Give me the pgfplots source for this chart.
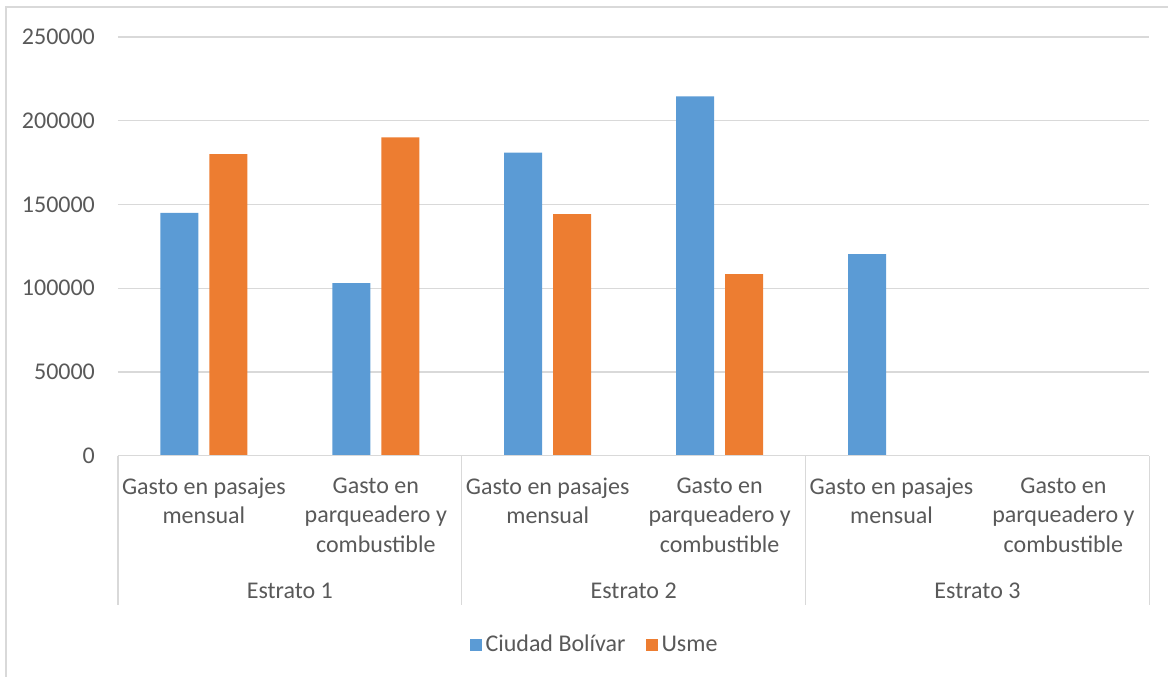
\documentclass[border=0pt]{standalone}
\usepackage{fontspec}
\setmainfont{Carlito}
\usepackage{pgfplots}
\pgfplotsset{compat=1.18}
\definecolor{cbblue}{HTML}{5B9BD5}
\definecolor{usorange}{HTML}{ED7D31}
\definecolor{txtgray}{HTML}{595959}
\definecolor{linegray}{HTML}{D9D9D9}

\begin{document}
\begin{tikzpicture}
% page = 1169 x 677 px, 1 px = 0.5 pt
\path (0,0) rectangle (584.5pt,338.5pt);
\draw[linegray, line width=0.6pt] (3pt,0) -- (3pt,335pt) -- (584.5pt,335pt);
\begin{axis}[
  at={(59pt,110.5pt)}, anchor=south west,
  scale only axis, width=516pt, height=209.5pt,
  xmin=-0.5, xmax=5.5, ymin=0, ymax=250000,
  ytick={0,50000,100000,150000,200000,250000},
  scaled y ticks=false,
  xtick={0,1,2,3,4,5},
  xticklabels={{Gasto en pasajes\\mensual},{Gasto en\\parqueadero y\\combustible},
               {Gasto en pasajes\\mensual},{Gasto en\\parqueadero y\\combustible},
               {Gasto en pasajes\\mensual},{Gasto en\\parqueadero y\\combustible}},
  x tick label style={align=center, anchor=north, yshift=-7.5pt,
    font=\fontsize{12}{14.75}\selectfont},
  y tick label style={font=\fontsize{12}{14}\selectfont, xshift=-8pt},
  /pgf/number format/fixed, /pgf/number format/1000 sep={},
  /pgf/number format/assume math mode=true,
  tick label style={text=txtgray},
  major tick length=0pt,
  ymajorgrids, grid style={linegray, line width=0.6pt},
  axis line style={draw=none},
  clip=false,
  ybar, bar width=19pt,
  legend style={at={(0.463,-0.452)}, anchor=center, draw=none,
    legend columns=2, font=\fontsize{12}{14}\selectfont, text=txtgray,
    /tikz/every even column/.append style={column sep=8pt}},
  legend image code/.code={\fill[#1] (0pt,-3pt) rectangle (6pt,3pt);},
]
\addplot[fill=cbblue, draw=none, bar shift=-12.25pt]
coordinates {(0,145000) (1,103000) (2,181000) (3,214500) (4,120300)};
\addlegendentry{Ciudad Bolívar}
\addplot[fill=usorange, draw=none, bar shift=12.25pt]
coordinates {(0,180000) (1,190000) (2,144200) (3,108400)};
\addlegendentry{Usme}
\end{axis}
\draw[linegray, line width=0.6pt] (59pt,110.5pt) -- (575pt,110.5pt);
\foreach \x in {59,231,403,575} \draw[linegray, line width=0.6pt] (\x pt,110.5pt) -- (\x pt,36pt);
\begin{scope}[every node/.style={text=txtgray, font=\fontsize{12}{14}\selectfont}]
\node at (145pt,43pt) {Estrato 1};
\node at (317pt,43pt) {Estrato 2};
\node at (489pt,43pt) {Estrato 3};
\end{scope}
\end{tikzpicture}
\end{document}
